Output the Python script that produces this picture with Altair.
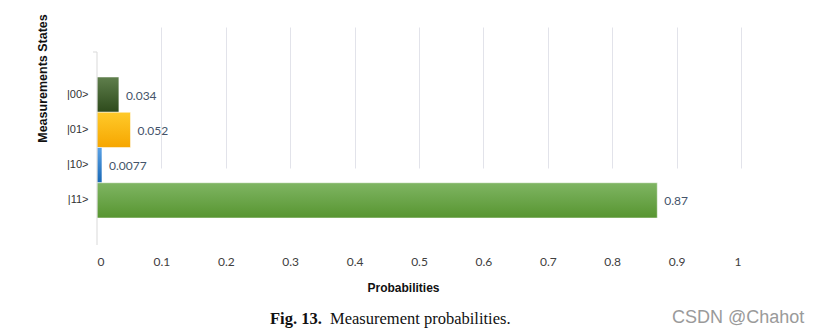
import altair as alt
import pandas as pd

states = ["|00>", "|01>", "|10>", "|11>"]
probs = [0.034, 0.052, 0.0077, 0.87]
x_ticks = [0, 0.1, 0.2, 0.3, 0.4, 0.5, 0.6, 0.7, 0.8, 0.9, 1]
bar_tops = ["#5f7f4c", "#ffca2a", "#5aa2e6", "#7fb563"]
bar_bottoms = ["#2d4a1b", "#f6a600", "#1767b5", "#579530"]
caption_bold = "Fig. 13."
caption_text = "Measurement probabilities."
watermark = "CSDN @Chahot"

df = pd.DataFrame({"state": states, "prob": probs})
note = pd.DataFrame({"k": [0]})

y_scale = alt.Scale(range=[77, 218], paddingInner=0, paddingOuter=0)
x_scale = alt.Scale(domain=[0, 1], nice=False)

x_axis = alt.Axis(
    values=x_ticks, format="~g", domain=False, ticks=False,
    labelFont="Lato", labelFontSize=12, labelColor="#404040",
    labelPadding=11,
    grid=True,
    gridColor=alt.condition("datum.value == 0", alt.value("transparent"), alt.value("#e2e3ea")),
    title="Probabilities", titleFont="Liberation Sans", titleFontSize=12,
    titleFontWeight="bold", titleColor="#111111",
    titleX=306, titleY=42, titleAlign="center", titleBaseline="middle",
)
y_axis = alt.Axis(
    domain=False, ticks=False, grid=False,
    labelFont="Liberation Sans", labelFontSize=11, labelColor="#333333",
    labelPadding=9,
    title="Measurements States", titleFont="Liberation Sans", titleFontSize=12.5,
    titleFontWeight="bold", titleColor="#111111",
    titleAngle=-90, titleX=-55, titleY=78, titleAlign="center", titleBaseline="middle",
)

base = alt.Chart(df).mark_text(opacity=0, text="").encode(
    x=alt.X("prob:Q", scale=x_scale, axis=x_axis),
    y=alt.Y("state:N", sort=states, scale=y_scale, axis=y_axis),
)

layers = [base]
for i, s in enumerate(states):
    grad = alt.Gradient(
        gradient="linear", x1=0, y1=0, x2=0, y2=1,
        stops=[alt.GradientStop(color=bar_tops[i], offset=0),
               alt.GradientStop(color=bar_bottoms[i], offset=1)],
    )
    layers.append(
        alt.Chart(df).transform_filter(alt.datum.state == s)
        .mark_bar(fill=grad, stroke="#ffffff", strokeOpacity=0.5, strokeWidth=1)
        .encode(
            x=alt.X("prob:Q", scale=x_scale),
            y=alt.Y("state:N", sort=states, scale=y_scale),
        )
    )

labels = alt.Chart(df).mark_text(
    align="left", baseline="middle", dx=7, dy=1, font="Lato", fontSize=12, color="#44546a"
).encode(
    x=alt.X("prob:Q", scale=x_scale),
    y=alt.Y("state:N", sort=states, scale=y_scale),
    text=alt.Text("prob:Q"),
)

axis_line = alt.Chart(note).mark_rule(color="#d9d9d9", strokeWidth=1).encode(
    x=alt.value(0), y=alt.value(52), y2=alt.value(245)
)
axis_tick = alt.Chart(note).mark_rule(color="#d9d9d9", strokeWidth=1).encode(
    x=alt.value(-4), x2=alt.value(0), y=alt.value(52)
)

cap1 = alt.Chart(note).mark_text(
    text=caption_bold, align="left", baseline="middle", font="Liberation Serif",
    fontSize=16.5, fontWeight="bold", color="#111111"
).encode(x=alt.value(173), y=alt.value(319))
cap2 = alt.Chart(note).mark_text(
    text=caption_text, align="left", baseline="middle", font="Liberation Serif",
    fontSize=16.5, color="#111111"
).encode(x=alt.value(233), y=alt.value(319))
wm = alt.Chart(note).mark_text(
    text=watermark, align="left", baseline="middle", font="Liberation Sans",
    fontSize=18, color="#9a9a9a"
).encode(x=alt.value(575), y=alt.value(318))

chart = alt.layer(*layers, labels, axis_line, axis_tick, cap1, cap2, wm).properties(
    width=644, height=245,
    autosize=alt.AutoSizeParams(type="none"),
    padding={"left": 97, "top": 0, "right": 81, "bottom": 89},
    background="white",
).configure_view(stroke=None)

chart.save("out.html", embed_options={"renderer": "svg", "actions": False})
